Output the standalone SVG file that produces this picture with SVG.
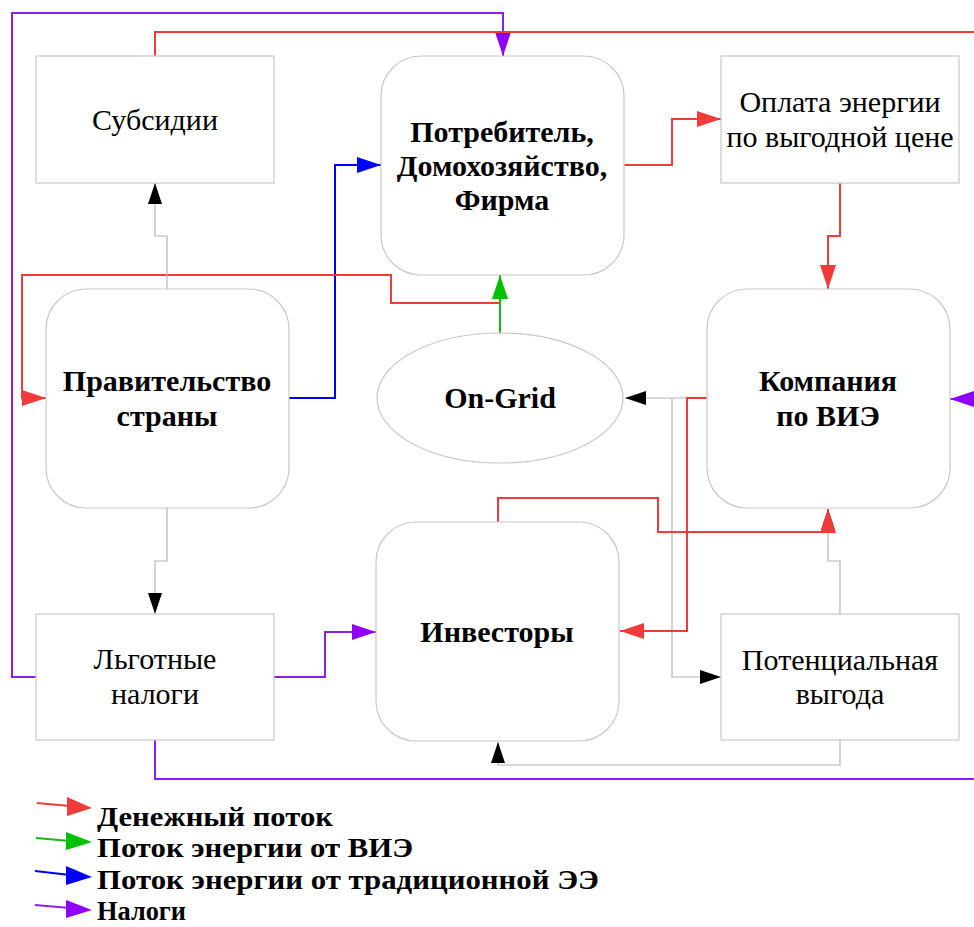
<svg xmlns="http://www.w3.org/2000/svg" width="974" height="927" viewBox="0 0 974 927">
<defs>
<style>
.box{fill:#fff;stroke:#c8c8c8;stroke-width:1.2}
.t{font-family:"Liberation Serif","Times New Roman",serif;font-size:30px;fill:#000;text-anchor:middle}
.b{font-weight:bold}
.g{fill:none;stroke:#b4b4b4;stroke-width:1.2}
.r{fill:none;stroke:#ee3b3b;stroke-width:2}
.p{fill:none;stroke:#8f1fe8;stroke-width:2}
.bl{fill:none;stroke:#0000f0;stroke-width:2}
.gr{fill:none;stroke:#1ab51a;stroke-width:2}
.lg{font-family:"Liberation Serif","Times New Roman",serif;font-size:28px;font-weight:bold;fill:#000}
</style>
<marker id="ar" markerUnits="userSpaceOnUse" markerWidth="24" markerHeight="16" refX="24" refY="8" orient="auto"><path d="M0,0 L24,8 L0,16 z" fill="#f33a3a"/></marker>
<marker id="ap" markerUnits="userSpaceOnUse" markerWidth="24" markerHeight="16" refX="24" refY="8" orient="auto"><path d="M0,0 L24,8 L0,16 z" fill="#8f00ff"/></marker>
<marker id="ab" markerUnits="userSpaceOnUse" markerWidth="24" markerHeight="16" refX="24" refY="8" orient="auto"><path d="M0,0 L24,8 L0,16 z" fill="#0000ff"/></marker>
<marker id="ag" markerUnits="userSpaceOnUse" markerWidth="24" markerHeight="16" refX="24" refY="8" orient="auto"><path d="M0,0 L24,8 L0,16 z" fill="#00c000"/></marker>
<marker id="ak" markerUnits="userSpaceOnUse" markerWidth="21" markerHeight="14" refX="21" refY="7" orient="auto"><path d="M0,0 L21,7 L0,14 z" fill="#000"/></marker>
</defs>
<rect width="974" height="927" fill="#fff"/>

<g id="connectors">
<path class="p" d="M36,677 H12 V13 H503 V56" marker-end="url(#ap)"/>
<path class="r" d="M155,56 V32 H974"/>
<path class="p" d="M155,740 V779 H974"/>
<path class="p" d="M974,399 H950" marker-end="url(#ap)"/>
<path class="r" d="M624,165 H672 V119 H721" marker-end="url(#ar)"/>
<path class="r" d="M840,183 V236 H828 V289" marker-end="url(#ar)"/>
<path class="bl" d="M289,398 H335 V165 H381" marker-end="url(#ab)"/>
<path class="r" d="M500,303 H391 V275 H22 V398 H46" marker-end="url(#ar)"/>
<path class="gr" d="M500,333 V275" marker-end="url(#ag)"/>
<path class="g" d="M167,289 V236 H155 V183" marker-end="url(#ak)"/>
<path class="g" d="M167,508 V561 H155 V614" marker-end="url(#ak)"/>
<path class="p" d="M274,677 H325 V632 H376" marker-end="url(#ap)"/>
<path class="g" d="M840,614 V561 H828 V509" marker-end="url(#ak)"/>
<path class="g" d="M707,398 H625" marker-end="url(#ak)"/>
<path class="g" d="M672,398 V677 H721" marker-end="url(#ak)"/>
<path class="g" d="M840,740 V765 H498 V742" marker-end="url(#ak)"/>
<path class="r" d="M498,522 V498 H658 V532 H828 V509" marker-end="url(#ar)"/>
<path class="r" d="M707,398 H687 V631 H620" marker-end="url(#ar)"/>
</g>

<g id="subsidii">
<rect class="box" x="36" y="56" width="238" height="127"/>
<text class="t" x="155" y="130">Субсидии</text>
</g>
<g id="potrebitel">
<rect class="box" x="381" y="56" width="243" height="219" rx="40"/>
<text class="t b" x="502" y="142">Потребитель,</text>
<text class="t b" x="502" y="176">Домохозяйство,</text>
<text class="t b" x="502" y="210">Фирма</text>
</g>
<g id="oplata">
<rect class="box" x="721" y="56" width="238" height="127"/>
<text class="t" x="840" y="112">Оплата энергии</text>
<text class="t" x="840" y="147">по выгодной цене</text>
</g>
<g id="pravitelstvo">
<rect class="box" x="46" y="289" width="243" height="219" rx="40"/>
<text class="t b" x="167" y="391">Правительство</text>
<text class="t b" x="167" y="426">страны</text>
</g>
<g id="ongrid">
<ellipse class="box" cx="500" cy="398" rx="123" ry="65"/>
<text class="t b" x="500" y="408">On-Grid</text>
</g>
<g id="kompania">
<rect class="box" x="707" y="289" width="243" height="219" rx="40"/>
<text class="t b" x="828" y="391">Компания</text>
<text class="t b" x="828" y="426">по ВИЭ</text>
</g>
<g id="lgotnye">
<rect class="box" x="36" y="614" width="238" height="126"/>
<text class="t" x="155" y="669">Льготные</text>
<text class="t" x="155" y="704">налоги</text>
</g>
<g id="investory">
<rect class="box" x="376" y="522" width="243" height="219" rx="40"/>
<text class="t b" x="497" y="642">Инвесторы</text>
</g>
<g id="vygoda">
<rect class="box" x="721" y="614" width="238" height="126"/>
<text class="t" x="840" y="670">Потенциальная</text>
<text class="t" x="840" y="704">выгода</text>
</g>

<g id="legend">
<line x1="37" y1="803" x2="70" y2="806" stroke="#ee3b3b" stroke-width="2"/>
<polygon points="67,797 92,808 67,816" fill="#f33a3a"/>
<text class="lg" x="97" y="826" textLength="236" lengthAdjust="spacingAndGlyphs">Денежный поток</text>
<line x1="36" y1="838" x2="70" y2="841" stroke="#1ab51a" stroke-width="2"/>
<polygon points="66,832 92,842 66,850" fill="#00c000"/>
<text class="lg" x="97" y="857" textLength="316" lengthAdjust="spacingAndGlyphs">Поток энергии от ВИЭ</text>
<line x1="35" y1="871" x2="70" y2="875" stroke="#0000f0" stroke-width="2"/>
<polygon points="66,866 92,877 66,885" fill="#0000ff"/>
<text class="lg" x="97" y="889" textLength="502" lengthAdjust="spacingAndGlyphs">Поток энергии от традиционной ЭЭ</text>
<line x1="35" y1="905" x2="70" y2="908" stroke="#8f1fe8" stroke-width="2"/>
<polygon points="66,900 92,910 66,918" fill="#8f00ff"/>
<text class="lg" x="97" y="920" textLength="89" lengthAdjust="spacingAndGlyphs">Налоги</text>
</g>
</svg>
